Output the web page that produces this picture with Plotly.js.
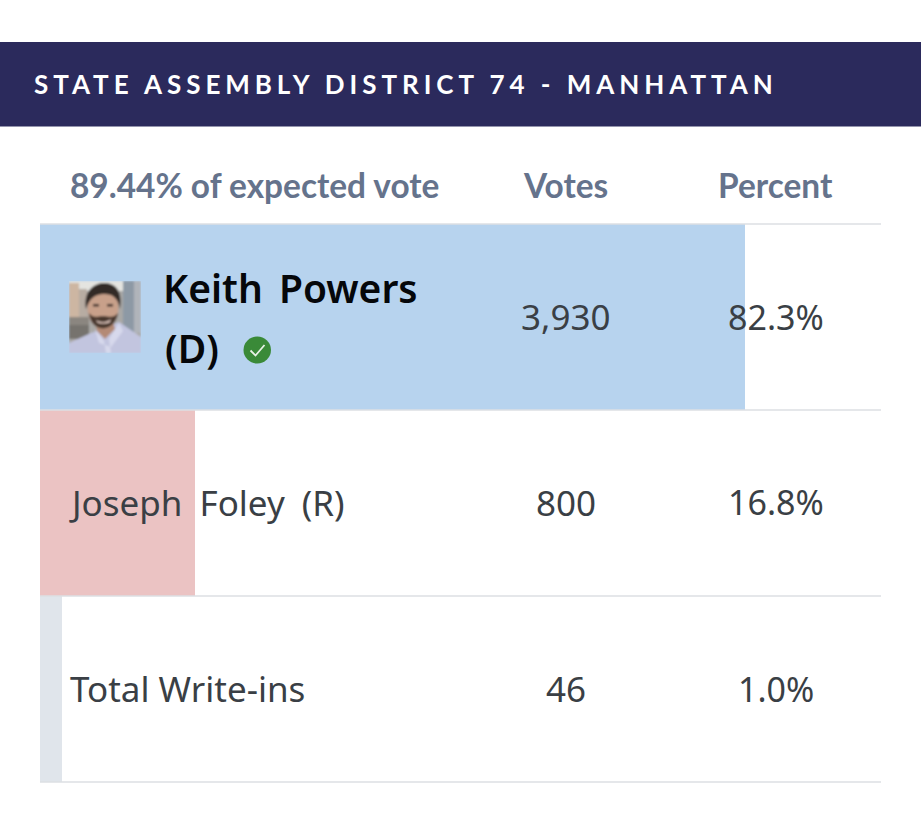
<!DOCTYPE html>
<html><head><meta charset="utf-8">
<script src="https://cdn.plot.ly/plotly-3.0.1.min.js"></script>
<style>
html,body{margin:0;padding:0;background:#fff;overflow:hidden}
#chart{width:921px;height:831px}
.gtitle{letter-spacing:4.95px}
.annotation[data-index="3"] text{word-spacing:6px}
.annotation[data-index="5"] text{word-spacing:8px}
</style></head><body><div id="chart"></div>
<script>
const chartTitle = "STATE ASSEMBLY DISTRICT 74 - MANHATTAN";
const headerLabel = "89.44% of expected vote";
const columnLabels = ["Votes", "Percent"];
const candidates = ["Keith Powers", "Joseph Foley (R)", "Total Write-ins"];
const votes = ["3,930", "800", "46"];
const percents = ["82.3%", "16.8%", "1.0%"];
const barLengths = [82.3, 18.1, 2.6];
const barColors = ["#b7d3ee", "#ebc3c3", "#e0e5eb"];

const W = 921, H = 831;
const px = x => x / W, py = y => 1 - y / H;
const slate = "#65738c", ink = "#3a3f45", FONT = "Lato, 'Noto Sans', sans-serif", BODY = "'Noto Sans', sans-serif";
const colVotes = px(565.5), colPct = px(775.5);
const rowY = [316.5, 502, 688.5];

const portrait = "data:image/svg+xml;utf8," + encodeURIComponent(
`<svg xmlns='http://www.w3.org/2000/svg' width='72' height='72' viewBox='0 0 72 72'>
<defs><filter id='b'><feGaussianBlur stdDeviation='1'/></filter></defs>
<g filter='url(#b)'>
<rect width='72' height='72' fill='#a9a8a6'/>
<rect x='0' y='0' width='72' height='10' fill='#e4e4e0'/>
<rect x='0' y='2' width='10' height='34' fill='#cdb6a2'/>
<rect x='10' y='8' width='8' height='28' fill='#b7aca2'/>
<rect x='54' y='0' width='11' height='52' fill='#8d99a5'/>
<rect x='65' y='0' width='7' height='52' fill='#b0b4ba'/>
<rect x='0' y='36' width='20' height='8' fill='#8b8680'/>
<rect x='0' y='44' width='20' height='14' fill='#76736e'/>
<path d='M0 72 L0 62 L22 52 L34 48 L50 41 L72 56 L72 72 Z' fill='#c2c5df'/>
<path d='M27 44 L44 40 L46 48 L36 58 L28 50 Z' fill='#b48a76'/>
<path d='M26 48 L35 60 L37 72 L42 72 L40 58 L50 42 L54 50 L42 66 L30 62 Z' fill='#d7d9ec'/>
<ellipse cx='34' cy='27' rx='15.5' ry='21' fill='#c8a08a'/>
<path d='M17 28 C14 9 26 2 35 2 C46 2 54 9 51 28 C49 17 44 13 35 13 C26 13 20 18 17 28 Z' fill='#332a28'/>
<path d='M20 32 C22 53 46 52 49 32 C44 38 40 35 34 35 C28 35 25 38 20 32 Z' fill='#4a382e'/>
<rect x='24' y='23' width='6' height='2.4' fill='#2d2320'/>
<rect x='38' y='23' width='6' height='2.4' fill='#2d2320'/>
<path d='M27 39 C31 42 38 42 42 38 L41 41 C37 43 31 43 28 41 Z' fill='#e5cdc4'/>
</g></svg>`);

const plainNote = (text, x, y, size, color, anchor, font, weight) => ({
  text, x, y, xref: "paper", yref: "paper", xanchor: anchor, yanchor: "middle", showarrow: false,
  font: {size, color, family: font, weight: weight || 400}
});

const annotations = [
  plainNote(headerLabel, px(68), py(185), 33.4, slate, "left", FONT, 700),
  plainNote(columnLabels[0], colVotes, py(185), 33.4, slate, "center", FONT, 700),
  plainNote(columnLabels[1], colPct, py(185), 33.4, slate, "center", FONT, 700),
  plainNote(candidates[0], px(164), py(287.5), 39, "#05070a", "left", BODY, 600),
  plainNote("(D)", px(163), py(347), 39, "#05070a", "left", BODY, 600),
  plainNote(candidates[1], px(75), py(502), 35, ink, "left", BODY),
  plainNote(candidates[2], px(68), py(688.5), 35, ink, "left", BODY)
];
votes.forEach((v, i) => annotations.push(plainNote(v, colVotes, py(rowY[i]), 35, ink, "center", BODY)));
percents.forEach((v, i) => annotations.push(plainNote(v, colPct, py(rowY[i]), 34, ink, "center", BODY)));

const rule = y => ({type: "line", xref: "paper", yref: "paper", x0: px(40), x1: px(881), y0: py(y), y1: py(y),
  line: {color: "#dcdfe3", width: 1.6}, layer: "above"});
const shapes = [
  {type: "rect", xref: "paper", yref: "paper", x0: 0, x1: 1, y0: py(126.5), y1: py(42),
   fillcolor: "#2b2a5c", line: {width: 0}, layer: "below"},
  rule(224), rule(410), rule(596), rule(782),
  {type: "circle", xref: "paper", yref: "paper", x0: px(243.5), x1: px(271), y0: py(363.5), y1: py(336.5),
   fillcolor: "#3a8a38", line: {width: 0}, layer: "above"},
  {type: "path", xref: "paper", yref: "paper", layer: "above",
   path: `M ${px(250.5)} ${py(350.5)} L ${px(255.5)} ${py(355.5)} L ${px(264.5)} ${py(345)}`,
   line: {color: "#e8f2e6", width: 1.8}}
];

const data = [{
  type: "bar", orientation: "h",
  x: barLengths, y: candidates,
  marker: {color: barColors, line: {width: 0}},
  hoverinfo: "skip"
}];

const layout = {
  width: W, height: H,
  margin: {l: 0, r: 0, t: 0, b: 0},
  paper_bgcolor: "#fff", plot_bgcolor: "rgba(0,0,0,0)",
  showlegend: false, bargap: 0,
  title: {text: chartTitle, x: px(34), xref: "paper", xanchor: "left", y: py(85), yref: "paper", yanchor: "middle",
    font: {family: FONT, size: 26, weight: 700, color: "#ffffff"}},
  xaxis: {domain: [px(40), px(881)], range: [0, 98.18], visible: false, fixedrange: true},
  yaxis: {domain: [py(782), py(224)], range: [2.5, -0.5], type: "category", visible: false, fixedrange: true,
    categoryorder: "array", categoryarray: candidates},
  images: [{source: portrait, xref: "paper", yref: "paper", x: px(69), y: py(281), sizex: 72 / W, sizey: 72 / H,
    xanchor: "left", yanchor: "top", sizing: "stretch", layer: "above"}],
  shapes, annotations
};
Plotly.newPlot("chart", data, layout, {displayModeBar: false, staticPlot: true});
</script></body></html>
